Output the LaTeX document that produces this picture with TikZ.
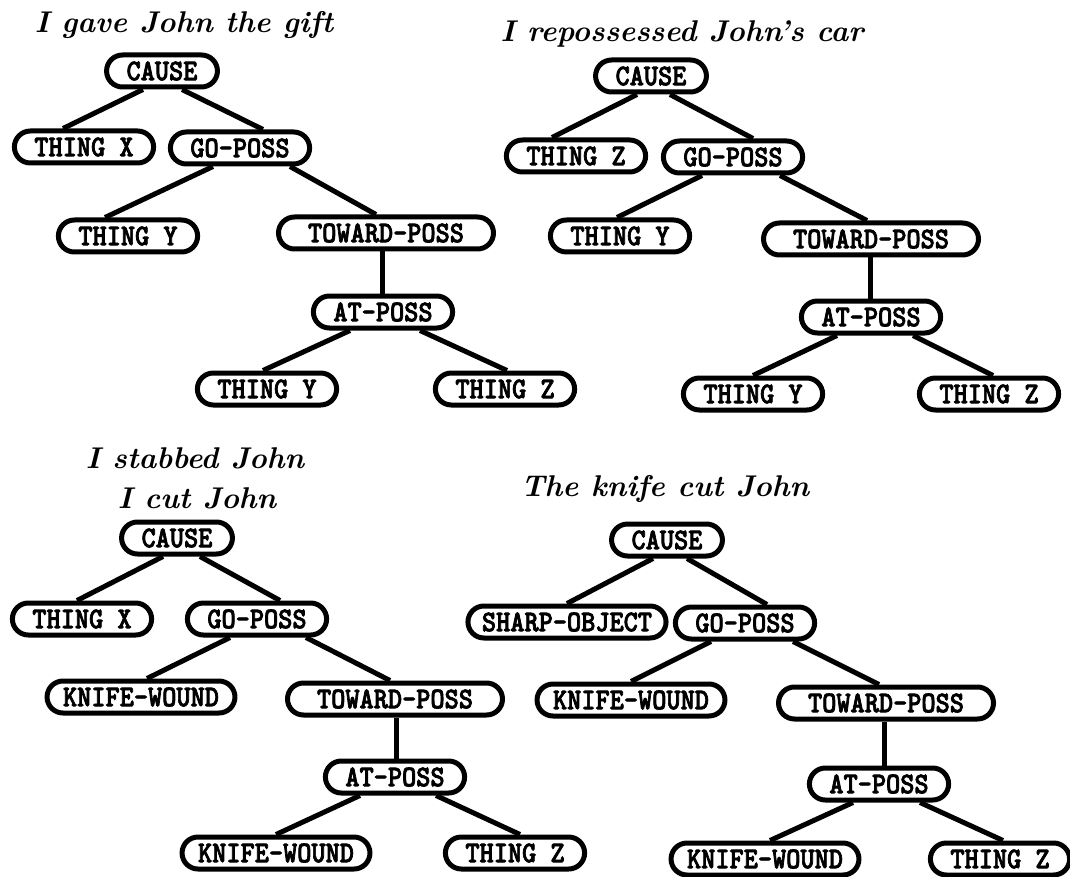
\documentclass[tikz,border=0pt]{standalone}
% heavy, slightly condensed typewriter face for the concept labels
\font\conceptfont="[lmmonolt10-bold]:embolden=2.4;extend=0.9" at 30pt
\begin{document}
\begin{tikzpicture}[x=1pt,y=-1pt,
  box/.style={draw, line width=5pt, rounded corners=16pt, minimum height=32pt,
    inner xsep=20pt, inner ysep=0pt, fill=white, font=\conceptfont},
  wide/.style={minimum width=215pt},
  tight/.style={inner xsep=16pt},
  tighter/.style={inner xsep=14pt},
  link/.style={line width=5pt},
  title/.style={anchor=base, font=\bfseries\itshape\fontsize{30}{36}\selectfont}]
\useasboundingbox (0,0) rectangle (1070,877);
\newcommand\lnk[4]{\draw[link] ([xshift=#2pt]#1.south) -- ([xshift=#4pt]#3.north);}

% ---- I gave John the gift
\node[title] (ta) at (184,33) {I gave John the gift};
\node[box] (a0) at (162,71) {CAUSE};
\node[box] (a1) at (84,147) {THING X};
\node[box] (a2) at (240,148) {GO-POSS};
\node[box] (a3) at (128,236) {THING Y};
\node[box,wide] (a4) at (386,233) {TOWARD-POSS};
\node[box] (a5) at (383,312) {AT-POSS};
\node[box] (a6) at (267,389) {THING Y};
\node[box] (a7) at (505,389) {THING Z};
\lnk{a0}{-19}{a1}{-21}
\lnk{a0}{20}{a2}{23}
\lnk{a2}{-27}{a3}{-23}
\lnk{a2}{50}{a4}{-10}
\lnk{a4}{-4}{a5}{-1}
\lnk{a5}{-33}{a6}{-4}
\lnk{a5}{37}{a7}{2}

% ---- I repossessed John's car
\node[title] (tb) at (682,42) {I repossessed John's car};
\node[box] (b0) at (651,76) {CAUSE};
\node[box] (b1) at (576,156) {THING Z};
\node[box] (b2) at (733,157) {GO-POSS};
\node[box] (b3) at (620,236) {THING Y};
\node[box,wide] (b4) at (871,239) {TOWARD-POSS};
\node[box] (b5) at (871,317) {AT-POSS};
\node[box] (b6) at (753,394) {THING Y};
\node[box] (b7) at (989,394) {THING Z};
\lnk{b0}{-14}{b1}{-24}
\lnk{b0}{19}{b2}{20}
\lnk{b2}{-31}{b3}{-3}
\lnk{b2}{47}{b4}{-4}
\lnk{b4}{-1}{b5}{-1}
\lnk{b5}{-34}{b6}{0}
\lnk{b5}{42}{b7}{4}

% ---- I stabbed John / I cut John
\node[title] (tc1) at (195,468) {I stabbed John};
\node[title] (tc2) at (197,508) {I cut John};
\node[box] (c0) at (177,538) {CAUSE};
\node[box] (c1) at (82,619) {THING X};
\node[box] (c2) at (257,619) {GO-POSS};
\node[box,tight] (c3) at (141,697) {KNIFE-WOUND};
\node[box,wide] (c4) at (395,699) {TOWARD-POSS};
\node[box] (c5) at (395,777) {AT-POSS};
\node[box,tight] (c6) at (276,853) {KNIFE-WOUND};
\node[box] (c7) at (515,853) {THING Z};
\lnk{c0}{-14}{c1}{-5}
\lnk{c0}{23}{c2}{23}
\lnk{c2}{-27}{c3}{6}
\lnk{c2}{49}{c4}{-5}
\lnk{c4}{1}{c5}{1}
\lnk{c5}{-35}{c6}{0}
\lnk{c5}{41}{c7}{5}

% ---- The knife cut John
\node[title] (td) at (665,496) {The knife cut John};
\node[box] (d0) at (667,540) {CAUSE};
\node[box,tighter] (d1) at (567,622) {SHARP-OBJECT};
\node[box] (d2) at (745,623) {GO-POSS};
\node[box,tight] (d3) at (631,700) {KNIFE-WOUND};
\node[box,wide] (d4) at (886,703) {TOWARD-POSS};
\node[box] (d5) at (879,784) {AT-POSS};
\node[box,tight] (d6) at (765,859) {KNIFE-WOUND};
\node[box] (d7) at (1000,859) {THING Z};
\lnk{d0}{-14}{d1}{0}
\lnk{d0}{20}{d2}{22}
\lnk{d2}{-34}{d3}{0}
\lnk{d2}{48}{d4}{-7}
\lnk{d4}{-2}{d5}{5}
\lnk{d5}{-26}{d6}{5}
\lnk{d5}{41}{d7}{3}
\end{tikzpicture}
\end{document}
